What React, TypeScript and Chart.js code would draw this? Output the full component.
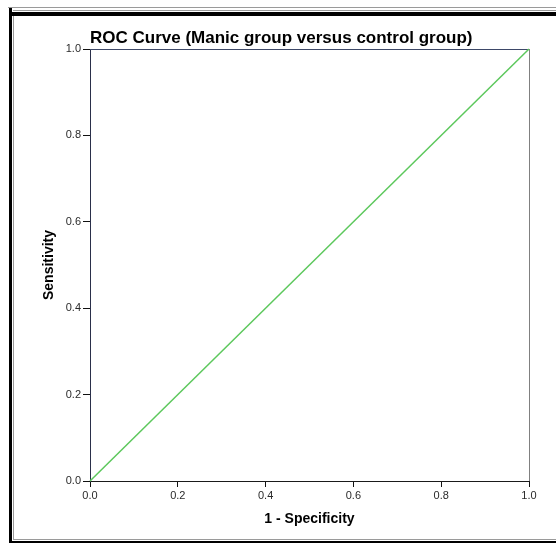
import React, { useEffect, useRef } from "react";
import { Chart, registerables } from "chart.js";

Chart.register(...registerables);

const falsePositiveRate = [0, 1];
const sensitivity = [0, 1];
const tickValues = [0, 0.2, 0.4, 0.6, 0.8, 1.0];
const chartTitle = "ROC Curve (Manic group versus control group)";
const xTitle = "1 - Specificity";
const yTitle = "Sensitivity";

const W = 556;
const H = 543;

const framePlugin = {
  id: "frameAndBorders",
  beforeDraw(chart: any) {
    const ctx = chart.ctx;
    ctx.save();
    ctx.fillStyle = "#ffffff";
    ctx.fillRect(0, 0, W, H);
    ctx.fillStyle = "#9a9a9a";
    ctx.fillRect(8, 7, W - 8, 1);
    ctx.fillRect(13, 10, W - 13, 1);
    ctx.fillRect(13, 12, 1, 527);
    ctx.fillRect(13, 539, W - 13, 1);
    ctx.fillStyle = "#000000";
    ctx.fillRect(12, 12, W - 12, 4);
    ctx.fillRect(9, 8, 3, H - 8);
    ctx.fillRect(9, 541, W - 9, 2);
    ctx.restore();
  },
  beforeDatasetsDraw(chart: any) {
    const { ctx, chartArea } = chart;
    ctx.save();
    ctx.lineWidth = 1;
    ctx.strokeStyle = "#3d4868";
    ctx.beginPath();
    ctx.moveTo(chartArea.left, Math.round(chartArea.top) + 0.5);
    ctx.lineTo(chartArea.right, Math.round(chartArea.top) + 0.5);
    ctx.stroke();
    ctx.strokeStyle = "#808080";
    ctx.beginPath();
    ctx.moveTo(Math.round(chartArea.right) + 0.5, chartArea.top);
    ctx.lineTo(Math.round(chartArea.right) + 0.5, chartArea.bottom);
    ctx.stroke();
    ctx.restore();
  },
};

export default function App() {
  const ref = useRef<HTMLCanvasElement | null>(null);

  useEffect(() => {
    if (!ref.current) return;
    const points = falsePositiveRate.map((x, i) => ({ x, y: sensitivity[i] }));
    const tickFont = { family: "Arial, 'Liberation Sans', sans-serif", size: 11 };
    const titleFont = { family: "Arial, 'Liberation Sans', sans-serif", size: 14, weight: "bold" as const };
    const chart = new Chart(ref.current, {
      type: "scatter",
      data: {
        datasets: [
          {
            data: points,
            showLine: true,
            borderColor: "#5cc85c",
            borderWidth: 1.5,
            pointRadius: 0,
            pointHoverRadius: 0,
            clip: false as any,
          },
        ],
      },
      options: {
        responsive: false,
        animation: false,
        layout: { padding: { left: 0, right: 27, top: 0, bottom: 0 } },
        plugins: {
          legend: { display: false },
          tooltip: { enabled: false },
          title: {
            display: true,
            text: chartTitle,
            align: "start",
            fullSize: false,
            color: "#000000",
            font: { family: "Arial, 'Liberation Sans', sans-serif", size: 17, weight: "bold" },
            padding: { top: 28, bottom: 0.6 },
          },
        },
        scales: {
          x: {
            type: "linear",
            min: 0,
            max: 1,
            afterBuildTicks: (scale: any) => {
              scale.ticks = tickValues.map((v) => ({ value: v }));
            },
            afterFit: (scale: any) => {
              scale.height = 62;
            },
            ticks: {
              color: "#2a2a2a",
              font: tickFont,
              padding: 2,
              callback: (v: any) => Number(v).toFixed(1),
            },
            grid: {
              drawOnChartArea: false,
              drawTicks: true,
              tickLength: 6,
              color: "#111111",
            },
            border: { display: true, color: "#1a1a1a", width: 1 },
            title: {
              display: true,
              text: xTitle,
              color: "#000000",
              font: titleFont,
              padding: { top: 0, bottom: 15 },
            },
          },
          y: {
            type: "linear",
            min: 0,
            max: 1,
            afterBuildTicks: (scale: any) => {
              scale.ticks = tickValues.map((v) => ({ value: v }));
            },
            afterFit: (scale: any) => {
              scale.width = 90;
            },
            ticks: {
              color: "#2a2a2a",
              font: tickFont,
              padding: 2,
              callback: (v: any) => Number(v).toFixed(1),
            },
            grid: {
              drawOnChartArea: false,
              drawTicks: true,
              tickLength: 7,
              color: "#111111",
            },
            border: { display: true, color: "#2a2f4a", width: 1 },
            title: {
              display: true,
              text: yTitle,
              color: "#000000",
              font: titleFont,
              padding: { top: 41, bottom: 0 },
            },
          },
        },
      },
      plugins: [framePlugin],
    });
    return () => chart.destroy();
  }, []);

  return (
    <div style={{ position: "fixed", left: 0, top: 0, width: W, height: H, overflow: "hidden" }}>
      <canvas ref={ref} width={W} height={H} style={{ display: "block", width: W, height: H }} />
    </div>
  );
}
